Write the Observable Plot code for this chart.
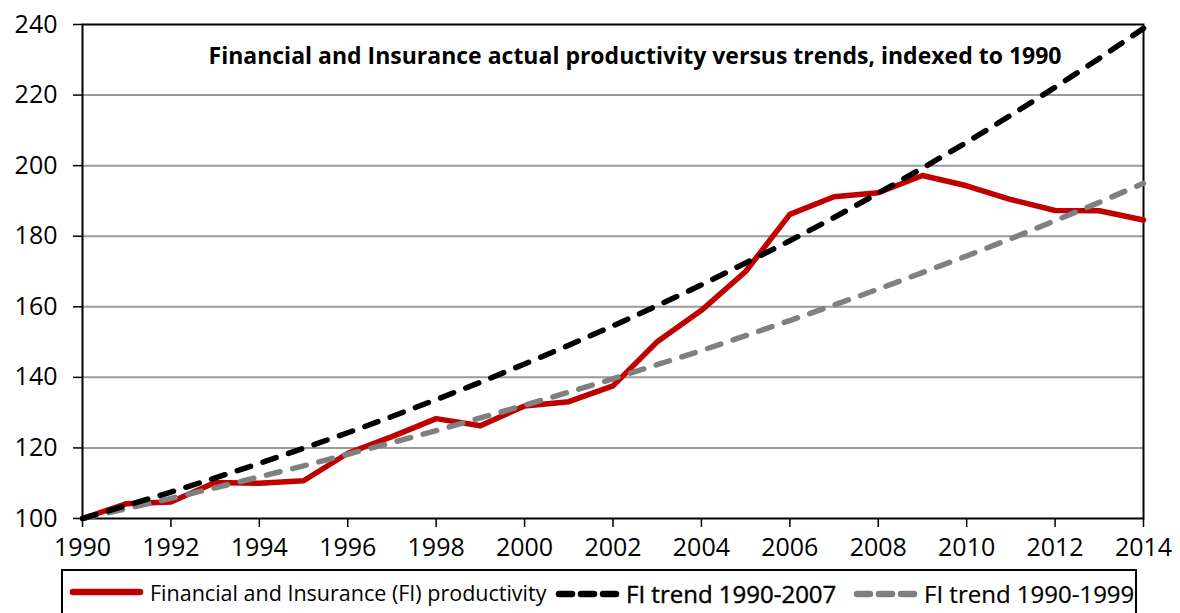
<!DOCTYPE html>
<html>
<head>
<meta charset="utf-8">
<script src="https://cdn.jsdelivr.net/npm/d3@7"></script>
<script src="https://cdn.jsdelivr.net/npm/@observablehq/plot@0.6"></script>
<style>
  html, body { margin: 0; padding: 0; background: #fff; }
  body { width: 1180px; height: 613px; position: relative; overflow: hidden; font-family: "Open Sans", sans-serif; }
  #chart { position: absolute; left: 0; top: 0; }
  #legend {
    position: absolute; left: 61px; top: 569px; width: 1076px; height: 60px;
    border: 2px solid #000; box-sizing: border-box;
    font-size: 21.5px; color: #000;
  }
  .item { position: absolute; top: 6px; display: flex; align-items: center; white-space: nowrap; }
  .item svg { display: block; margin-right: 6px; }
</style>
</head>
<body>
<div id="chart"></div>
<div id="legend"></div>
<script>
const years = [1990,1991,1992,1993,1994,1995,1996,1997,1998,1999,2000,2001,2002,2003,2004,2005,2006,2007,2008,2009,2010,2011,2012,2013,2014];
const productivity = [100,104.2,104.7,110.2,110.0,110.7,118.5,123.2,128.3,126.3,131.9,133.1,137.6,150.1,159.0,170.0,186.2,191.2,192.3,197.2,194.3,190.4,187.3,187.2,184.6];
const trend1990_2007 = [100,103.7,107.5,111.5,115.6,119.9,124.3,128.9,133.7,138.6,143.8,149.1,154.6,160.3,166.2,172.4,178.7,185.3,192.2,199.3,206.6,214.3,222.2,230.4,238.9];
const trend1990_1999 = [100,102.8,105.7,108.7,111.8,114.9,118.2,121.5,124.9,128.5,132.1,135.8,139.6,143.6,147.6,151.8,156.1,160.5,165.0,169.7,174.4,179.3,184.4,189.6,195.0];
const xTicks = [1990,1992,1994,1996,1998,2000,2002,2004,2006,2008,2010,2012,2014];
const yTicks = [100,120,140,160,180,200,220,240];
const title = "Financial and Insurance actual productivity versus trends, indexed to 1990";
const seriesNames = ["Financial and Insurance (FI) productivity", "FI trend 1990-2007", "FI trend 1990-1999"];

const rows = years.map((y, i) => ({year: y, prod: productivity[i], t07: trend1990_2007[i], t99: trend1990_1999[i]}));

const dash = "14,13";
const chart = Plot.plot({
  width: 1180,
  height: 568,
  marginLeft: 82,
  marginRight: 37,
  marginTop: 24,
  marginBottom: 50,
  style: {fontFamily: "Open Sans, sans-serif", fontSize: "25px", color: "#000", background: "#fff"},
  x: {domain: [1990, 2014], label: null},
  y: {domain: [100, 240], label: null},
  marks: [
    Plot.gridY(yTicks.filter(d => d > 100 && d < 240), {stroke: "#9a9a9a", strokeOpacity: 1, strokeWidth: 2}),
    Plot.axisY({ticks: yTicks, tickSize: 9, tickPadding: 16, stroke: "#000", strokeWidth: 1.5, fontSize: 25, label: null}),
    Plot.axisX({ticks: xTicks, tickSize: 9, tickPadding: 11, tickFormat: "d", stroke: "#000", strokeWidth: 1.5, fontSize: 25, label: null}),
    Plot.frame({stroke: "#000", strokeWidth: 2}),
    Plot.line(rows, {x: "year", y: "prod", stroke: "#c00000", strokeWidth: 5.5, strokeLinejoin: "round"}),
    Plot.line(rows, {x: "year", y: "t99", stroke: "#808080", strokeWidth: 5.5, strokeDasharray: dash, strokeLinecap: "round"}),
    Plot.line(rows, {x: "year", y: "t07", stroke: "#000", strokeWidth: 5.5, strokeDasharray: dash, strokeLinecap: "round"}),
    Plot.text([title], {frameAnchor: "top", dx: 22, dy: 23, fontSize: 23, fontWeight: "bold", fill: "#000", text: d => d})
  ]
});
document.getElementById("chart").appendChild(chart);

const legend = document.getElementById("legend");
const items = [
  {name: seriesNames[0], color: "#c00000", dash: null, left: 6, w: 75, style: ""},
  {name: seriesNames[1], color: "#000", dash: "13,9", left: 492, w: 65, style: "font-size:24px;-webkit-text-stroke:0.4px #000;"},
  {name: seriesNames[2], color: "#808080", dash: "13,9", left: 790, w: 65, style: "font-size:24px;-webkit-text-stroke:0.2px #000;"}
];
items.forEach(it => {
  const div = document.createElement("div");
  div.className = "item";
  div.style.left = it.left + "px";
  div.innerHTML = `<svg width="${it.w}" height="30"><line x1="4" x2="${it.w - 4}" y1="15" y2="15" stroke="${it.color}" stroke-width="6.5" stroke-linecap="round" ${it.dash ? `stroke-dasharray="${it.dash}"` : ""}/></svg><span style="${it.style}">${it.name}</span>`;
  legend.appendChild(div);
});
</script>
</body>
</html>
